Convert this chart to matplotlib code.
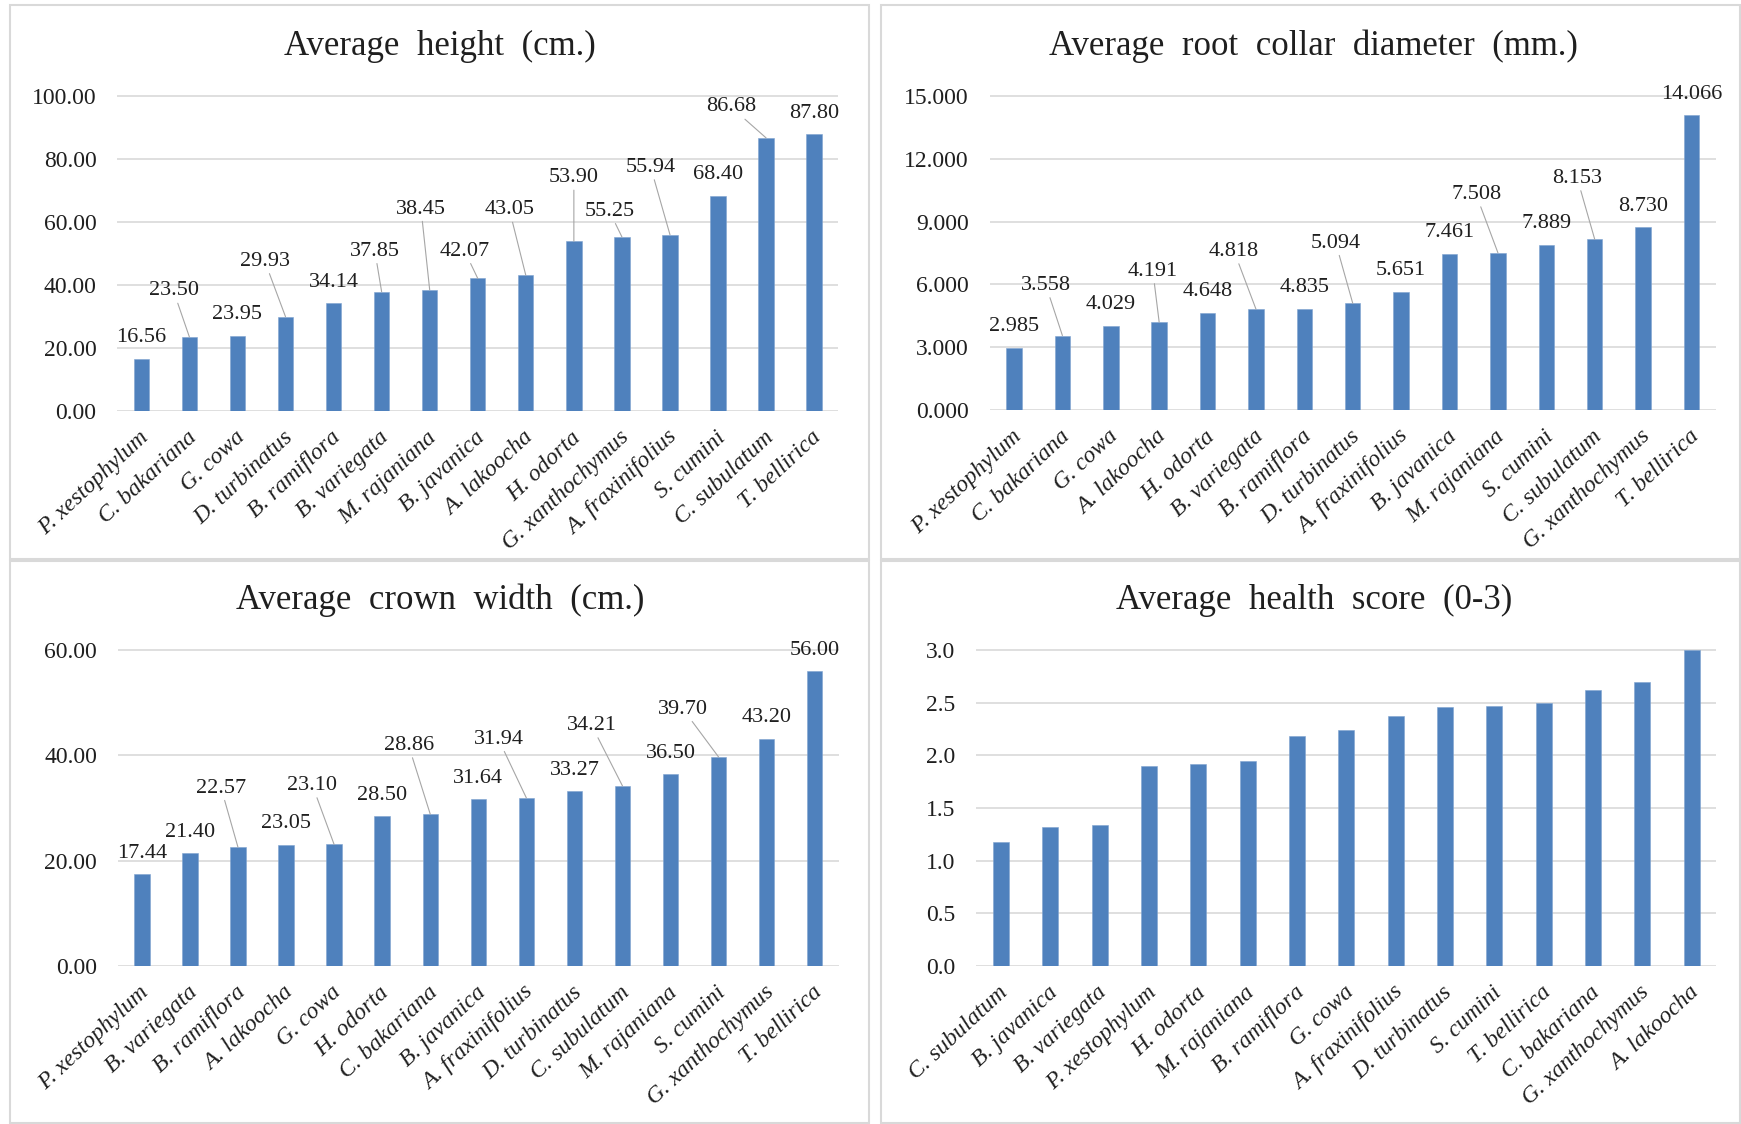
import matplotlib
matplotlib.use("Agg")
import matplotlib.pyplot as plt
from matplotlib.patches import Rectangle
from matplotlib.ticker import FormatStrFormatter
from matplotlib.transforms import ScaledTranslation, blended_transform_factory

plt.rcParams['font.family'] = ['Liberation Serif', 'DejaVu Serif']

# ---- data -----------------------------------------------------------------
height_species = ["P. xestophylum", "C. bakariana", "G. cowa", "D. turbinatus",
                  "B. ramiflora", "B. variegata", "M. rajaniana", "B. javanica",
                  "A. lakoocha", "H. odorta", "G. xanthochymus", "A. fraxinifolius",
                  "S. cumini", "C. subulatum", "T. bellirica"]
height_values = [16.56, 23.50, 23.95, 29.93, 34.14, 37.85, 38.45, 42.07,
                 43.05, 53.90, 55.25, 55.94, 68.40, 86.68, 87.80]

diameter_species = ["P. xestophylum", "C. bakariana", "G. cowa", "A. lakoocha",
                    "H. odorta", "B. variegata", "B. ramiflora", "D. turbinatus",
                    "A. fraxinifolius", "B. javanica", "M. rajaniana", "S. cumini",
                    "C. subulatum", "G. xanthochymus", "T. bellirica"]
diameter_values = [2.985, 3.558, 4.029, 4.191, 4.648, 4.818, 4.835, 5.094,
                   5.651, 7.461, 7.508, 7.889, 8.153, 8.730, 14.066]

crown_species = ["P. xestophylum", "B. variegata", "B. ramiflora", "A. lakoocha",
                 "G. cowa", "H. odorta", "C. bakariana", "B. javanica",
                 "A. fraxinifolius", "D. turbinatus", "C. subulatum", "M. rajaniana",
                 "S. cumini", "G. xanthochymus", "T. bellirica"]
crown_values = [17.44, 21.40, 22.57, 23.05, 23.10, 28.50, 28.86, 31.64,
                31.94, 33.27, 34.21, 36.50, 39.70, 43.20, 56.00]

health_species = ["C. subulatum", "B. javanica", "B. variegata", "P. xestophylum",
                  "H. odorta", "M. rajaniana", "B. ramiflora", "G. cowa",
                  "A. fraxinifolius", "D. turbinatus", "S. cumini", "T. bellirica",
                  "C. bakariana", "G. xanthochymus", "A. lakoocha"]
health_values = [1.18, 1.32, 1.34, 1.90, 1.92, 1.95, 2.19, 2.24,
                 2.38, 2.46, 2.47, 2.50, 2.62, 2.70, 3.00]

# value labels moved off their bars: index -> (x shift in categories, label y)
height_callouts = {1: (-0.33, 38.1), 3: (-0.43, 47.5), 5: (-0.14, 50.7),
                   6: (-0.18, 64.1), 7: (-0.27, 50.7), 8: (-0.34, 63.8),
                   9: (0.0, 74.0), 10: (-0.26, 63.4), 11: (-0.40, 77.3),
                   13: (-0.73, 96.5)}
diameter_callouts = {1: (-0.34, 5.95), 3: (-0.13, 6.62), 5: (-0.45, 7.57),
                     7: (-0.35, 7.97), 10: (-0.45, 10.29), 12: (-0.36, 11.06)}
crown_callouts = {2: (-0.35, 33.8), 4: (-0.45, 34.3), 6: (-0.45, 41.9),
                  8: (-0.58, 43.1), 10: (-0.64, 45.7), 12: (-0.74, 48.8)}

# ---- styling ----------------------------------------------------------------
W, H = 1741, 1124
BAR = "#4F81BD"
GRID = "#D9D9D9"
TEXT = "#1F1F1F"
LEADER = "#A6A6A6"
FRAME = "#D9D9D9"

fig = plt.figure(figsize=(W / 100, H / 100), dpi=100)
fig.patch.set_facecolor("white")

# chart frames
for (x0, y0, x1, y1) in [(10, 5, 869, 559), (881, 5, 1740, 559),
                         (10, 561, 869, 1123), (881, 561, 1740, 1123)]:
    fig.patches.append(Rectangle((x0 / W, 1 - y1 / H), (x1 - x0) / W, (y1 - y0) / H,
                                 transform=fig.transFigure, fill=False,
                                 edgecolor=FRAME, lw=1.5))


def draw_panel(box, title, title_xy, species, values, ymax, ystep, tick_fmt,
               label_fmt=None, callouts=None):
    x0, y0, x1, y1 = box
    ax = fig.add_axes([x0 / W, 1 - y1 / H, (x1 - x0) / W, (y1 - y0) / H])
    n = len(values)
    xs = list(range(n))
    ax.bar(xs, values, width=0.32, color=BAR, edgecolor="#7FA3D0", lw=0.4, zorder=3)
    ax.set_xlim(-0.5, n - 0.5)
    ax.set_ylim(0, ymax * 1.003)
    nt = int(round(ymax / ystep))
    ax.set_yticks([ystep * k for k in range(nt + 1)])
    ax.yaxis.set_major_formatter(FormatStrFormatter(tick_fmt))
    ax.grid(axis="y", color=GRID, lw=1.2, zorder=0)
    ax.set_axisbelow(True)
    for s in ax.spines.values():
        s.set_visible(False)
    ax.tick_params(axis="y", length=0, pad=15, labelsize=17, labelcolor=TEXT)
    ax.set_xticks([])

    # rotated italic category names
    trans = blended_transform_factory(ax.transData, ax.transAxes) + \
        ScaledTranslation(-3 / 100, -16 / 100, fig.dpi_scale_trans)
    for i, name in enumerate(species):
        ax.text(i, 0, name, transform=trans, rotation=43, rotation_mode="anchor",
                ha="right", va="top", style="italic", fontsize=17, color=TEXT,
                clip_on=False)

    # value labels
    if label_fmt is not None:
        callouts = callouts or {}
        for i, v in enumerate(values):
            txt = label_fmt.format(v)
            if i in callouts:
                dx, ly = callouts[i]
                ax.annotate(txt, xy=(i, v), xytext=(i + dx, ly), textcoords="data",
                            ha="center", va="center", fontsize=16, color=TEXT,
                            annotation_clip=False,
                            arrowprops=dict(arrowstyle="-", color=LEADER, lw=0.8,
                                            shrinkA=0, shrinkB=0))
            else:
                ax.annotate(txt, xy=(i, v), xytext=(0, 15), textcoords="offset points",
                            ha="center", va="center", fontsize=16, color=TEXT,
                            annotation_clip=False)

    fig.text(title_xy[0] / W, 1 - title_xy[1] / H, title, ha="center", va="center",
             fontsize=25, color=TEXT)
    return ax


draw_panel((117.3, 95, 838.2, 411), "Average  height  (cm.)", (440, 46),
           height_species, height_values, 100, 20, "%.2f", "{:.2f}", height_callouts)
draw_panel((989.8, 95, 1715.7, 410), "Average  root  collar  diameter  (mm.)", (1313, 46),
           diameter_species, diameter_values, 15, 3, "%.3f", "{:.3f}", diameter_callouts)
draw_panel((117.8, 649.3, 838.8, 966), "Average  crown  width  (cm.)", (440, 600),
           crown_species, crown_values, 60, 20, "%.2f", "{:.2f}", crown_callouts)
draw_panel((976.3, 649.3, 1716.4, 966), "Average  health  score  (0-3)", (1314, 600),
           health_species, health_values, 3.0, 0.5, "%.1f")

fig.savefig("out.png", dpi=100)
